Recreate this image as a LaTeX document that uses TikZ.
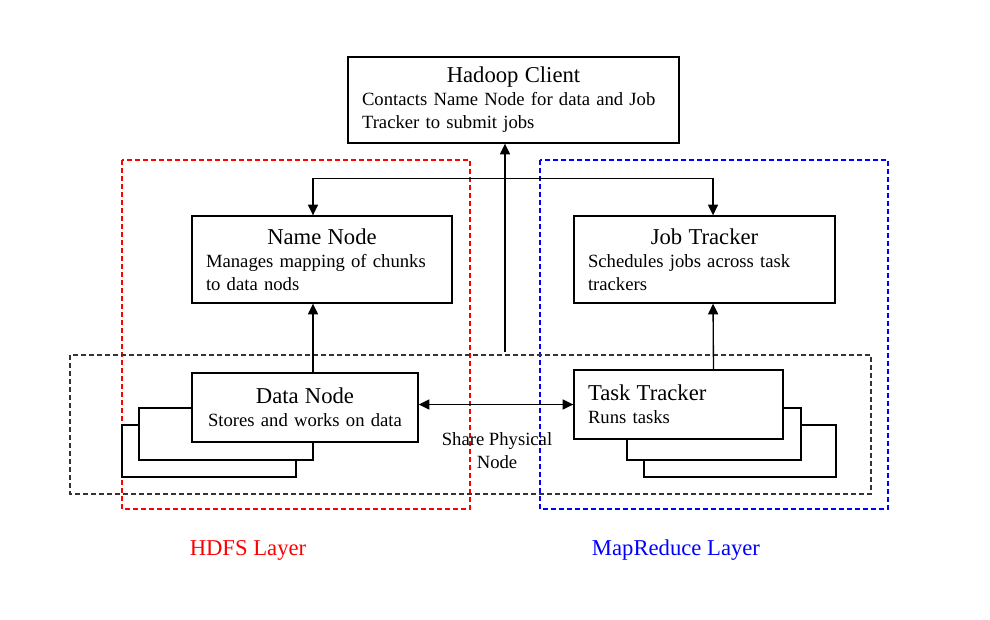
\documentclass[tikz,border=0pt]{standalone}
\usepackage{fontspec}
\setmainfont{Liberation Serif}
\usetikzlibrary{arrows.meta}
\newcommand{\headfont}{\fontsize{17}{19}\selectfont}
\newcommand{\bodyfont}{\fontsize{14}{17.25}\selectfont}

\begin{document}
\begin{tikzpicture}[x=0.75pt,y=-0.75pt,>={Triangle[length=8pt,width=7.5pt]},line width=1pt]
  \tikzset{box/.style={draw,fill=white,line width=1pt,inner xsep=10.5pt,inner ysep=0pt,align=left,font=\bodyfont}}
  \tikzset{layer/.style={dash pattern=on 3.75pt off 2.25pt,line width=0.9pt}}
  \useasboundingbox (0,0) rectangle (990,619);
  % layers
  \draw[layer,red] (122,160) rectangle (470,509);
  \draw[layer,blue] (540,160) rectangle (888,509);
  \draw[layer,black!80] (70,355) rectangle (871,494);
  % boxes
  \node[box,text width=227.25pt,minimum height=64.5pt] (hc) at (513.5,100)
    {{\centering\headfont Hadoop Client\par}Contacts Name Node for data and Job\\Tracker to submit jobs\par\vspace{-3pt}};
  \node[box,text width=174pt,minimum height=65.25pt] (nn) at (322,259.5)
    {{\centering\headfont Name Node\par}Manages mapping of chunks\\to data nods\par\vspace{-2pt}};
  \node[box,text width=174.75pt,minimum height=65.25pt] (jt) at (704.5,259.5)
    {{\centering\headfont Job Tracker\par}Schedules jobs across task\\trackers\par\vspace{-2pt}};
  \draw[fill=white] (122,425) rectangle (296,477);
  \draw[fill=white] (139,408) rectangle (313,460);
  \node[box,align=center,text width=148.5pt,minimum height=51.75pt] (dn) at (305,407.5)
    {{\headfont Data Node\par}Stores and works on data\par\vspace{2pt}};
  \draw[fill=white] (644,425) rectangle (836,477);
  \draw[fill=white] (627,408) rectangle (801,460);
  \node[box,text width=135.75pt,minimum height=51.75pt] (tt) at (678.5,404.5)
    {{\headfont Task Tracker\par}Runs tasks\par\vspace{2pt}};
  % links
  \coordinate (hcin) at (505,352);
  \draw[->] (hcin) -- (hcin |- hc.south);
  \draw[<->] ([xshift=-6.75pt]nn.north) -- ++(0,-37) -| ([xshift=6.4pt]jt.north);
  \draw[->] ([xshift=6pt]dn.north) -- ([xshift=-6.75pt]nn.south);
  \draw[->] ([xshift=26.25pt]tt.north) -- ([xshift=6.4pt]jt.south);
  \draw[<->] (tt.west -| dn.east) -- (tt.west);
  \node[font=\bodyfont,align=center] (share) at (497,451) {Share Physical\\Node};
  % layer names
  \node[font=\headfont,text=red] (hdfs) at (248,550) {HDFS Layer};
  \node[font=\headfont,text=blue] (mr) at (676,550) {MapReduce Layer};
\end{tikzpicture}
\end{document}
